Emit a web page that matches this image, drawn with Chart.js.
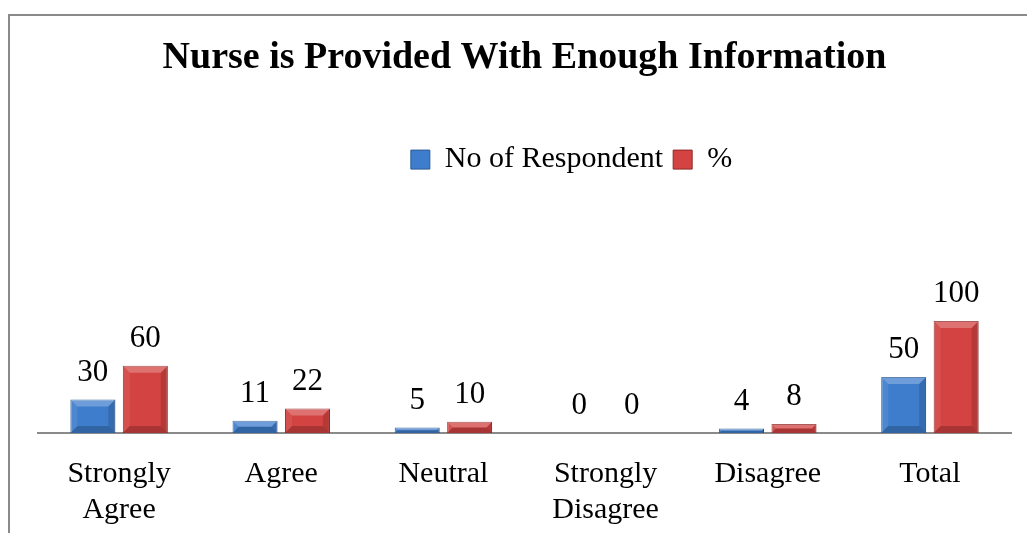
<!DOCTYPE html>
<html>
<head>
<meta charset="utf-8">
<script src="https://cdn.jsdelivr.net/npm/chart.js@4/dist/chart.umd.min.js"></script>
<style>
  html, body { margin: 0; padding: 0; background: #fff; }
  #wrap { position: relative; width: 1027px; height: 533px; overflow: hidden; }
  #frame { position: absolute; left: 8px; top: 14px; width: 1019px; height: 519px;
           border-top: 2px solid #8a8a8a; border-left: 2px solid #8a8a8a; }
  #chart { position: absolute; left: 0; top: 0; }
</style>
</head>
<body>
<div id="wrap">
  <div id="frame"></div>
  <canvas id="chart" width="1027" height="533"></canvas>
</div>
<script>
// data
const categories = [["Strongly", "Agree"], "Agree", "Neutral", ["Strongly", "Disagree"], "Disagree", "Total"];
const respondents = [30, 11, 5, 0, 4, 50];
const percents = [60, 22, 10, 0, 8, 100];
const seriesNames = ["No of Respondent", "%"];

const serif = "'Liberation Serif', 'Times New Roman', serif";

// value labels above each bar
const valueLabels = {
  id: "valueLabels",
  afterDatasetsDraw(chart) {
    const ctx = chart.ctx;
    ctx.save();
    ctx.font = "31px " + serif;
    ctx.fillStyle = "#000";
    ctx.textAlign = "center";
    ctx.textBaseline = "middle";
    chart.data.datasets.forEach((ds, i) => {
      chart.getDatasetMeta(i).data.forEach((bar, j) => {
        ctx.fillText(String(ds.data[j]), bar.x, bar.y - 27);
      });
    });
    ctx.restore();
  }
};

// office-like bevel on the bars
const bevel = {
  id: "bevel",
  afterDatasetsDraw(chart) {
    const ctx = chart.ctx;
    ctx.save();
    chart.data.datasets.forEach((ds, i) => {
      chart.getDatasetMeta(i).data.forEach(bar => {
        const h = bar.base - bar.y;
        if (h <= 0) return;
        const x0 = bar.x - bar.width / 2, x1 = bar.x + bar.width / 2;
        const t = bar.y, b = bar.base;
        const s = Math.min(7, h / 2);
        const face = (pts, col) => {
          ctx.beginPath();
          ctx.moveTo(pts[0][0], pts[0][1]);
          for (let k = 1; k < pts.length; k++) ctx.lineTo(pts[k][0], pts[k][1]);
          ctx.closePath();
          ctx.fillStyle = col;
          ctx.fill();
        };
        face([[x0, t], [x1, t], [x1 - s, t + s], [x0 + s, t + s]], "rgba(255,255,255,0.25)");
        face([[x0, t], [x0 + s, t + s], [x0 + s, b - s], [x0, b]], "rgba(255,255,255,0.08)");
        face([[x1, t], [x1, b], [x1 - s, b - s], [x1 - s, t + s]], "rgba(0,0,0,0.14)");
        face([[x0, b], [x0 + s, b - s], [x1 - s, b - s], [x1, b]], "rgba(0,0,0,0.2)");
      });
    });
    ctx.restore();
  }
};

// legend sits a little right of centre in the original
const legendShift = {
  id: "legendShift",
  afterLayout(chart) {
    chart.legend.left += 47;
    chart.legend.right += 47;
  }
};

new Chart(document.getElementById("chart"), {
  type: "bar",
  data: {
    labels: categories,
    datasets: [
      {
        label: seriesNames[0],
        data: respondents,
        backgroundColor: "#3e7dcc",
        borderColor: "#2a5a95",
        borderWidth: 1
      },
      {
        label: seriesNames[1],
        data: percents,
        backgroundColor: "#d24341",
        borderColor: "#8f2725",
        borderWidth: 1
      }
    ]
  },
  options: {
    responsive: false,
    animation: false,
    devicePixelRatio: 1,
    categoryPercentage: 0.647,
    barPercentage: 0.857,
    layout: { padding: { left: 38, right: 16, top: 0, bottom: -18 } },
    plugins: {
      title: {
        display: true,
        text: "Nurse is Provided With Enough Information",
        color: "#000",
        font: { family: serif, size: 38, weight: "bold" },
        padding: { top: 35, bottom: 54 }
      },
      legend: {
        display: true,
        position: "top",
        labels: {
          color: "#000",
          font: { family: serif, size: 30 },
          boxWidth: 19,
          boxHeight: 19,
          padding: 10
        }
      },
      tooltip: { enabled: false }
    },
    scales: {
      x: {
        grid: { display: false, drawTicks: false },
        border: { display: true, color: "#8a8a8a", width: 2 },
        ticks: {
          color: "#000",
          font: { family: serif, size: 30, lineHeight: 1.2 },
          padding: 23,
          maxRotation: 0,
          autoSkip: false
        }
      },
      y: {
        display: false,
        min: 0,
        max: 222
      }
    }
  },
  plugins: [legendShift, bevel, valueLabels]
});
</script>
</body>
</html>
